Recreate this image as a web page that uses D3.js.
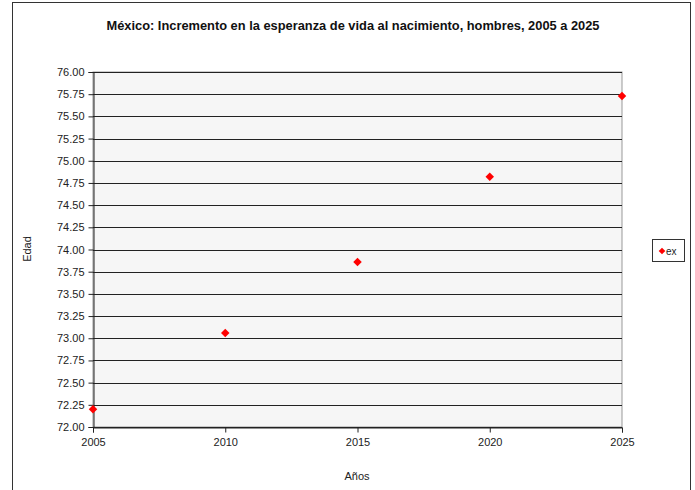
<!DOCTYPE html>
<html><head><meta charset="utf-8">
<script src="https://cdn.jsdelivr.net/npm/d3@7"></script>
<style>body{margin:0;background:#fff;}svg{display:block;font-family:"Liberation Sans",Arial,sans-serif;}</style>
</head><body>
<script>
const years = [2005, 2010, 2015, 2020, 2025];
const ex = [72.20, 73.06, 73.86, 74.82, 75.73];
const yTicks = d3.range(0, 17).map(i => 72 + i * 0.25);
const title = "México: Incremento en la esperanza de vida al nacimiento, hombres,  2005 a 2025";

const W = 695, H = 490;
const svg = d3.select("body").append("svg").attr("width", W).attr("height", H);
svg.append("rect").attr("width", W).attr("height", H).attr("fill", "#fff");
// chart frame
svg.append("rect").attr("x", 12.5).attr("y", 2.5).attr("width", 678).attr("height", 500)
  .attr("fill", "#fff").attr("stroke", "#333").attr("stroke-width", 1);

const m = {l: 93, r: 622, t: 72, b: 427};
const x = d3.scaleLinear().domain([2005, 2025]).range([m.l, m.r]);
const y = d3.scaleLinear().domain([72, 76]).range([m.b, m.t]);

svg.append("rect").attr("x", m.l).attr("y", m.t).attr("width", m.r - m.l).attr("height", m.b - m.t)
  .attr("fill", "#f6f6f6").attr("stroke", "#999").attr("stroke-width", 1);

// gridlines
svg.append("g").selectAll("line").data(yTicks).join("line")
  .attr("x1", m.l).attr("x2", m.r)
  .attr("y1", d => Math.round(y(d)) + 0.5).attr("y2", d => Math.round(y(d)) + 0.5)
  .attr("stroke", "#222").attr("stroke-width", 1);

const ya = svg.append("g").attr("transform", `translate(${m.l + 0.5},0)`)
  .call(d3.axisLeft(y).tickValues(yTicks).tickFormat(d3.format(".2f")).tickSize(5).tickPadding(4));
ya.select(".domain").attr("stroke", "#222");
ya.selectAll(".tick line").attr("stroke", "#222");
ya.selectAll("text").attr("font-size", 11).attr("fill", "#222")
  .attr("font-family", "'Liberation Sans', Arial, sans-serif");

const xa = svg.append("g").attr("transform", `translate(0,${m.b + 0.5})`)
  .call(d3.axisBottom(x).tickValues(years).tickFormat(d3.format("d")).tickSize(5).tickPadding(6));
xa.select(".domain").attr("stroke", "#222");
xa.selectAll(".tick line").attr("stroke", "#222");
xa.selectAll("text").attr("font-size", 11).attr("fill", "#222")
  .attr("font-family", "'Liberation Sans', Arial, sans-serif");

// points
const diamond = d3.symbol().type(d3.symbolDiamond2 || d3.symbolDiamond).size(60);
svg.append("g").selectAll("path").data(years).join("path")
  .attr("transform", (d, i) => `translate(${x(d)},${y(ex[i])}) rotate(0)`)
  .attr("d", d3.symbol().type(d3.symbolSquare).size(36))
  .attr("transform", (d, i) => `translate(${x(d)},${y(ex[i])}) rotate(45)`)
  .attr("fill", "#ff0000");

// title
svg.append("text").attr("x", 353).attr("y", 30).attr("text-anchor", "middle")
  .attr("font-size", 12).attr("font-weight", "bold").attr("fill", "#111")
  .attr("textLength", 493).attr("lengthAdjust", "spacingAndGlyphs")
  .text(title);

// axis titles
svg.append("text").attr("transform", "translate(31,249) rotate(-90)").attr("text-anchor", "middle")
  .attr("font-size", 11).attr("fill", "#222").text("Edad");
svg.append("text").attr("x", 357).attr("y", 480).attr("text-anchor", "middle")
  .attr("font-size", 11).attr("fill", "#222").text("Años");

// legend
const lg = svg.append("g");
lg.append("rect").attr("x", 652.5).attr("y", 239.5).attr("width", 32).attr("height", 22)
  .attr("fill", "#fff").attr("stroke", "#333");
lg.append("path").attr("d", d3.symbol().type(d3.symbolSquare).size(22))
  .attr("transform", "translate(662,251) rotate(45)").attr("fill", "#ff0000");
lg.append("text").attr("x", 666).attr("y", 254.5).attr("font-size", 10).attr("fill", "#222").text("ex");
</script>
</body></html>
